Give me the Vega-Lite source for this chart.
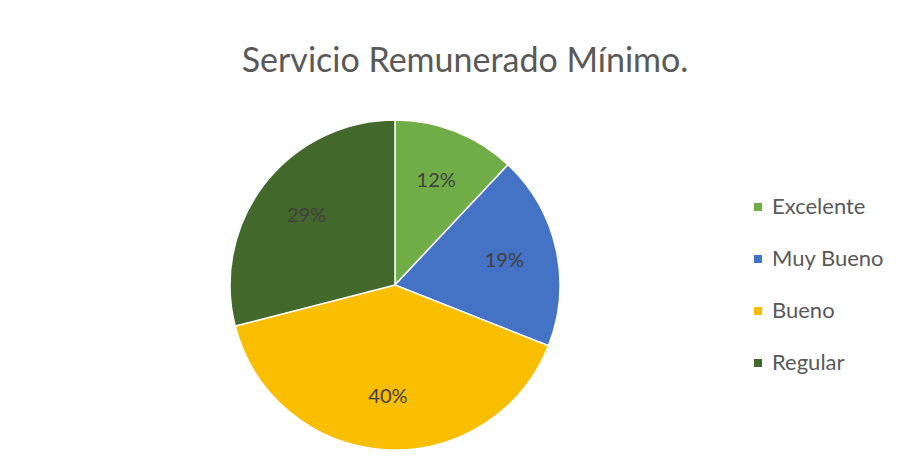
{
  "$schema": "https://vega.github.io/schema/vega-lite/v6.json",
  "width": 790,
  "height": 346,
  "autosize": {"type": "none"},
  "padding": {"top": 112, "left": 0, "right": 117, "bottom": 0},
  "background": "white",
  "title": {
    "text": "Servicio Remunerado Mínimo.",
    "font": "Lato",
    "fontSize": 34,
    "fontWeight": "normal",
    "color": "#595959",
    "dx": 70,
    "offset": 33
  },
  "data": {
    "values": [
      {"categoria": "Excelente", "porcentaje": 0.12, "orden": 1},
      {"categoria": "Muy Bueno", "porcentaje": 0.19, "orden": 2},
      {"categoria": "Bueno", "porcentaje": 0.40, "orden": 3},
      {"categoria": "Regular", "porcentaje": 0.29, "orden": 4}
    ]
  },
  "encoding": {
    "theta": {"field": "porcentaje", "type": "quantitative", "stack": true},
    "order": {"field": "orden", "type": "quantitative"},
    "color": {
      "field": "categoria",
      "type": "nominal",
      "sort": ["Excelente", "Muy Bueno", "Bueno", "Regular"],
      "scale": {
        "domain": ["Excelente", "Muy Bueno", "Bueno", "Regular"],
        "range": ["#70AD47", "#4472C4", "#F9BE00", "#43682B"]
      },
      "legend": {
        "title": null,
        "orient": "none",
        "legendX": 747,
        "legendY": 84,
        "symbolType": "square",
        "symbolSize": 64,
        "symbolStrokeWidth": 0,
        "labelFont": "Lato",
        "labelFontSize": 22,
        "labelColor": "#595959",
        "labelOffset": 3,
        "labelLimit": 200,
        "rowPadding": 30,
        "padding": 0
      }
    }
  },
  "layer": [
    {"mark": {"type": "arc", "outerRadius": 165, "stroke": "white", "strokeWidth": 1.5}},
    {
      "mark": {"type": "text", "radius": 112, "font": "Lato", "fontSize": 20, "fill": "#404040"},
      "encoding": {
        "text": {"field": "porcentaje", "type": "quantitative", "format": ".0%"},
        "color": {"value": "#404040"}
      }
    }
  ],
  "config": {"view": {"stroke": null}}
}
